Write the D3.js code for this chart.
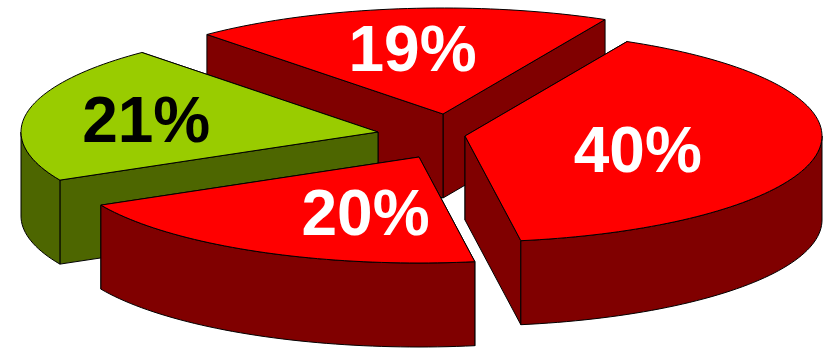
<!DOCTYPE html>
<html>
<head>
<meta charset="utf-8">
<script src="https://cdn.jsdelivr.net/npm/d3@7/dist/d3.min.js"></script>
<style>
  html, body { margin: 0; padding: 0; background: #fff; }
  svg { display: block; }
</style>
</head>
<body>
<svg id="chart" width="830" height="348"></svg>
<script>
// Slice shares, clockwise from the 40% wedge
const categories = ["A", "B", "C", "D"];
const shares = [40, 20, 21, 19];
const shareLabels = ["40%", "20%", "21%", "19%"];
const topColours = ["#ff0000", "#ff0000", "#99cc00", "#ff0000"];
const wallColours = ["#800000", "#800000", "#4d6600", "#800000"];
const labelColours = ["#ffffff", "#ffffff", "#000000", "#ffffff"];

// Layout of the tilted, exploded pie
const centre = { x: 420, y: 135 };
const radiusX = 357, radiusY = 106, depth = 84;
const explode = [[45, 1], [-1, 22], [-42, -3], [23, -21]];
const labelFraction = [[0.49, 0.77], [0.33, 0.58], [0.661, 0.68], [0.68, 0.63]];
const paintOrder = [3, 2, 0, 1];   // back to front
const startDegrees = 27;

const toRad = Math.PI / 180;
const svg = d3.select("#chart");

// The unit circle maps onto the ground ellipse through two linear scales
const sx = d3.scaleLinear().domain([-1, 1]).range([-radiusX, radiusX]);
const sy = d3.scaleLinear().domain([-1, 1]).range([-radiusY, radiusY]);

const slices = d3.pie().sort(null)
  .startAngle(startDegrees * toRad)
  .endAngle((startDegrees + 360) * toRad)(shares);

const line = d3.line();
const closed = pts => line(pts) + "Z";

function arcPoints(a0, a1, ox, oy) {
  const n = Math.max(2, Math.ceil((a1 - a0) / (toRad * 1.5)));
  return d3.range(n + 1).map(i => {
    const a = a0 + (a1 - a0) * i / n;
    return [ox + sx(Math.sin(a)), oy + sy(-Math.cos(a))];
  });
}

function drawSlice(i) {
  const s = slices[i];
  const ox = centre.x + explode[i][0];
  const oy = centre.y + explode[i][1];
  const g = svg.append("g").attr("class", "slice slice-" + categories[i]);
  const edgeStyle = sel => sel
    .attr("stroke", "#000").attr("stroke-width", 1).attr("stroke-linejoin", "round");

  // Radial walls, the farther one first
  const apex = [ox, oy];
  const ends = [s.startAngle, s.endAngle].map(a => arcPoints(a, a, ox, oy)[0]);
  ends.sort((p, q) => p[1] - q[1]).forEach(p => {
    g.append("path")
      .attr("d", closed([apex, p, [p[0], p[1] + depth], [apex[0], apex[1] + depth]]))
      .attr("fill", wallColours[i]).call(edgeStyle);
  });

  // Outer rim, only where it faces the viewer (between 90 and 270 degrees)
  const ranges = [[Math.PI / 2, 1.5 * Math.PI], [2.5 * Math.PI, 3.5 * Math.PI]];
  ranges.forEach(([lo, hi]) => {
    const a0 = Math.max(lo, s.startAngle), a1 = Math.min(hi, s.endAngle);
    if (a1 <= a0) return;
    const upper = arcPoints(a0, a1, ox, oy);
    const lower = upper.map(p => [p[0], p[1] + depth]).reverse();
    g.append("path").attr("d", closed(upper.concat(lower)))
      .attr("fill", wallColours[i]).call(edgeStyle);
  });

  // Top face
  g.append("path")
    .attr("d", closed([apex].concat(arcPoints(s.startAngle, s.endAngle, ox, oy))))
    .attr("fill", topColours[i]).call(edgeStyle);

  // Share label
  const mid = (s.startAngle + s.endAngle) / 2;
  g.append("text")
    .attr("x", ox + sx(Math.sin(mid)) * labelFraction[i][0])
    .attr("y", oy + sy(-Math.cos(mid)) * labelFraction[i][1])
    .attr("dy", "0.36em")
    .attr("text-anchor", "middle")
    .attr("font-family", "'Liberation Sans', Arial, sans-serif")
    .attr("font-weight", "700")
    .attr("font-size", 64)
    .attr("fill", labelColours[i])
    .text(shareLabels[i]);
}

paintOrder.forEach(drawSlice);
</script>
</body>
</html>
